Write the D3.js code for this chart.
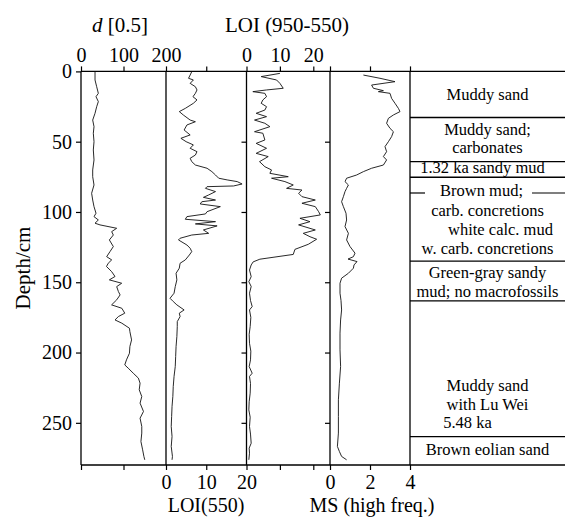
<!DOCTYPE html>
<html>
<head>
<meta charset="utf-8">
<script src="https://cdn.jsdelivr.net/npm/d3@7"></script>
<style>
  body { margin: 0; background: #fff; }
  svg text { font-family: "Liberation Serif", "Times New Roman", serif; fill: #000; }
</style>
</head>
<body>
<svg id="core" width="565" height="517"></svg>
<script>
// [depth cm, value]
var grainSize = [[0.2,33],[6.1,33],[10.9,36.9],[15.6,40.8],[18,35.3],[21.5,40.8],[25.1,36.9],[29.8,33],[34.6,27.5],[39.3,30.6],[44,29],[50,30.6],[55.9,29],[63,30.6],[70.1,27.5],[74.9,27.5],[80.8,30.6],[86.7,25],[91.5,27.5],[96.2,30.6],[100.9,35.3],[103.3,30.6],[105.7,40.8],[108,33],[109.2,44.7],[111.6,83.9],[114,72.2],[116.4,76.1],[119.9,66.7],[124.6,76.1],[128.2,68.2],[131.8,60.4],[134.1,72.2],[136.5,64],[138.8,60],[142.4,72],[145.9,80],[148.3,66.7],[150.7,95.7],[153.1,84],[156.6,88],[159,92],[162.5,84],[166.1,72],[168.5,96],[172,103],[174.4,88],[176.8,80],[179.1,96],[182.7,114],[185.1,115],[191,119],[195.7,115],[200.5,114],[205.2,107],[208.8,103],[211.1,111],[214.7,123],[218.2,135],[221.8,139],[226.5,137],[231.3,143],[236,139],[241.9,147],[246.7,139],[252.6,143],[257.3,143],[263.3,141],[269.2,145],[273.9,148],[276.3,150]];

var loi550 = [[0.2,6.4],[2.6,6],[4.9,5.6],[6.1,6.8],[8.5,6],[10.9,7.3],[13.2,7.7],[15.6,7.3],[18,6.7],[20.3,7.7],[22.7,6.8],[26.3,4.8],[28.6,3.3],[31,4.3],[34.6,6],[35.8,7.3],[38.1,5.2],[41.7,4.5],[45.2,6],[47.6,3.7],[50,5],[52.3,6.8],[54.7,6],[57.1,7.7],[59.5,7.3],[61.8,6],[64.2,6.4],[66.6,7.3],[68.9,10.2],[71.3,11.4],[73.7,12.3],[76,13.1],[77.2,15.2],[78.4,17.7],[80.1,18.9],[81.5,16.8],[82,10.2],[83.2,9.8],[85.5,12.3],[87.9,10.6],[89.6,9.3],[91.5,12.3],[92.7,8.9],[94.3,8.5],[96.2,13.5],[99.8,10.2],[101.4,9.8],[103.3,5.2],[105.2,4.8],[106.9,12.3],[108.5,7.3],[109.9,12.7],[112.8,9.3],[115.2,10.6],[116.4,6.4],[118.7,3.5],[119.9,3.1],[123.5,5.2],[125.8,6],[128.2,6.4],[130.6,5.8],[134.1,4.8],[136.5,3.5],[140,3.3],[143.6,2.5],[148.3,2.7],[153.1,2.3],[157.8,2],[161.4,1],[163.7,1.8],[166.1,2.7],[169.7,4.5],[172,3.3],[174.4,3.5],[178,2.8],[181.5,2.8],[188.6,2.7],[195.7,2.5],[202.8,2.4],[209.9,2.3],[217,2],[224.2,1.8],[231.3,1.7],[238.4,1.5],[245.5,1.4],[252.6,1.3],[259.7,1.5],[266.8,1.3],[273.9,1.6],[276.3,1.5]];

var loi950 = [[1.4,10],[3.7,4.4],[6.1,9],[8.5,10],[12,11],[13.2,6],[14.4,1.9],[15.6,5.5],[18,6],[20.3,4.9],[22.7,4.4],[25.1,6],[27.5,5.5],[29.8,2.9],[32.2,6],[34.6,2.4],[36.9,5.5],[39.3,7],[42.9,2.4],[44,4.9],[48.8,5.5],[51.2,2.9],[54.7,6],[58.3,2.9],[60.6,6.5],[64.2,3.9],[67.8,5.5],[70.1,7.5],[72.5,7],[74.9,12.5],[76,7.5],[78.4,11.5],[80.8,14],[83.2,12],[84.4,16.6],[86.7,15.6],[89.1,16.6],[91.5,20.6],[93.8,16.6],[96.2,20.6],[99.8,21.6],[102.1,22.1],[104.5,16],[106.9,19],[109.2,15.6],[112.8,20.6],[115.2,17],[117.6,19],[119.4,21],[123,18.5],[126.6,14.5],[130.2,14],[133.6,4],[135.5,2],[137.7,1.4],[141.3,0.9],[146,1.4],[149.6,0.7],[153,1.4],[157.8,0.9],[163,1.2],[167.3,1.7],[169.7,0.9],[175,1.3],[181.5,1.1],[187,0.8],[193.4,0.9],[199,1.3],[205.2,1.2],[210,0.8],[214.7,1.7],[217,0.9],[222,1.2],[228.9,1.1],[235,0.8],[240.8,0.7],[246,1.1],[252.6,0.9],[258,1.2],[264.5,1.4],[268,0.8],[271.6,0.9],[276.3,0.7]];

var magSus = [[2.6,1.67],[4.9,2.5],[7.3,3.25],[9.7,2.08],[12,2.17],[13.7,2.67],[14.4,2.42],[15.6,3],[19.2,3.08],[22.7,3.25],[26.3,3.42],[28.6,3.5],[31,3.17],[33.4,2.92],[36.9,2.83],[40.5,3],[42.9,3.17],[46.4,3.08],[50,2.92],[53.5,2.75],[57.1,2.83],[60.6,2.67],[63,2.83],[66.6,2.67],[68.9,2.08],[71.3,1.67],[73.7,1.33],[76,0.83],[78.4,0.75],[80.8,0.92],[83.2,0.83],[85.5,0.75],[89.1,0.67],[92.7,0.58],[96.2,0.67],[100.9,0.8],[105.7,0.83],[110.4,0.75],[115.2,0.92],[119.9,0.83],[124.6,1],[129.3,1.25],[131.8,1.17],[133.5,0.9],[135.3,1.35],[137.7,1.2],[140,1.17],[143.6,0.92],[147.1,0.58],[150.7,0.5],[157.8,0.5],[163,0.55],[169.7,0.58],[176.8,0.53],[186.2,0.5],[198.1,0.5],[209.9,0.53],[221.8,0.47],[233.6,0.42],[245.5,0.42],[257.3,0.42],[266.8,0.37],[270.4,0.47],[273.9,0.58],[276.3,0.83]];

var depthTicks = [0, 50, 100, 150, 200, 250];
var grainTicks = [0, 100, 200];
var loi550Ticks = [0, 10, 20];
var loi950Ticks = [0, 10, 20];
var msTicks = [0, 2, 4];

// lithology: layer boundaries (cm) and the description lines with their depth
var layerBounds = [32.8, 64.2, 75.3, 134.9, 163.3, 259.8];
var lithoLines = [
  [20.3, "Muddy sand"],
  [45.2, "Muddy sand;"],
  [58, "carbonates"],
  [72.3, "1.32 ka sandy mud"],
  [88.6, "Brown mud;"],
  [102.8, "carb. concretions"],
  [116.4, "white calc. mud"],
  [129.9, "w. carb. concretions"],
  [147, "Green-gray sandy"],
  [160.5, "mud; no macrofossils"],
  [227.3, "Muddy sand"],
  [240.8, "with Lu Wei"],
  [253.6, "5.48 ka"],
  [272.8, "Brown eolian sand"]
];
var brownMudMark = 86.5;

var svg = d3.select("#core");
var top0 = 71.4, bottom0 = 465, left0 = 81, logRight = 410, colRight = 565;

var y = d3.scaleLinear().domain([0, 280]).range([top0, bottom0]);

var xGrain = d3.scaleLinear().domain([0, 200]).range([81, 166]);
var xLoi550 = d3.scaleLinear().domain([0, 20]).range([166, 246.5]);
var xLoi950 = d3.scaleLinear().domain([0, 25]).range([246.5, 330]);
var xMs = d3.scaleLinear().domain([0, 4]).range([330, 410]);

function axisGroup(axis, ty) {
  var g = svg.append("g")
    .attr("transform", "translate(0," + ty + ")")
    .call(axis);
  g.select(".domain").remove();
  g.selectAll("line").attr("stroke", "#000").attr("stroke-width", 1.2);
  g.selectAll("text")
    .style("font-family", "'Liberation Serif', 'Times New Roman', serif")
    .style("font-size", "20px");
  return g;
}

// labelled ticks
axisGroup(d3.axisTop(xGrain).tickValues(grainTicks).tickSize(5).tickPadding(4).tickFormat(d3.format("d")), top0);
axisGroup(d3.axisTop(xLoi950).tickValues(loi950Ticks).tickSize(5).tickPadding(4).tickFormat(d3.format("d")), top0);
axisGroup(d3.axisBottom(xLoi550).tickValues(loi550Ticks).tickSize(5).tickPadding(5).tickFormat(d3.format("d")), bottom0);
axisGroup(d3.axisBottom(xMs).tickValues(msTicks).tickSize(5).tickPadding(5).tickFormat(d3.format("d")), bottom0);

// ticks on the opposite side, no labels
axisGroup(d3.axisTop(xLoi550).tickValues([10]).tickSize(5).tickFormat(""), top0);
axisGroup(d3.axisTop(xLoi950).tickValues([25]).tickSize(5).tickFormat(""), top0);
axisGroup(d3.axisTop(xMs).tickValues([2, 4]).tickSize(5).tickFormat(""), top0);
axisGroup(d3.axisBottom(xGrain).tickValues([0, 100]).tickSize(5).tickFormat(""), bottom0);
axisGroup(d3.axisBottom(xLoi950).tickValues([10, 20]).tickSize(5).tickFormat(""), bottom0);

// depth axis
var yAxis = svg.append("g")
  .attr("transform", "translate(" + left0 + ",0)")
  .call(d3.axisLeft(y).tickValues(depthTicks).tickSize(5).tickPadding(4).tickFormat(d3.format("d")));
yAxis.select(".domain").remove();
yAxis.selectAll("line").attr("stroke", "#000").attr("stroke-width", 1.2);
yAxis.selectAll("text").style("font-size", "20px")
  .style("font-family", "'Liberation Serif', 'Times New Roman', serif");

// inner depth ticks on the LOI(950-550) and MS dividers
[xLoi950.range()[0], xMs.range()[0]].forEach(function(px) {
  var g = svg.append("g")
    .attr("transform", "translate(" + px + ",0)")
    .call(d3.axisLeft(y).tickValues(depthTicks.slice(1)).tickSize(5).tickFormat(""));
  g.select(".domain").remove();
  g.selectAll("line").attr("stroke", "#000").attr("stroke-width", 1.2);
});

// frame
var frame = svg.append("g").attr("stroke", "#000").attr("stroke-width", 1.3);
frame.append("line").attr("x1", left0).attr("x2", colRight).attr("y1", top0).attr("y2", top0);
frame.append("line").attr("x1", left0).attr("x2", colRight).attr("y1", bottom0).attr("y2", bottom0);
[left0, 166, 246.5, 330, logRight].forEach(function(px) {
  frame.append("line").attr("x1", px).attr("x2", px).attr("y1", top0).attr("y2", bottom0);
});

// curves
var series = [
  { data: grainSize, x: xGrain },
  { data: loi550, x: xLoi550 },
  { data: loi950, x: xLoi950 },
  { data: magSus, x: xMs }
];
series.forEach(function(s) {
  var line = d3.line()
    .x(function(d) { return s.x(d[1]); })
    .y(function(d) { return y(d[0]); });
  svg.append("path")
    .datum(s.data)
    .attr("fill", "none")
    .attr("stroke", "#111")
    .attr("stroke-width", 0.9)
    .attr("stroke-linejoin", "round")
    .attr("d", line);
});

// lithology column
svg.selectAll(".layer")
  .data(layerBounds)
  .enter()
  .append("line")
  .attr("class", "layer")
  .attr("x1", logRight).attr("x2", colRight)
  .attr("y1", function(d) { return y(d); })
  .attr("y2", function(d) { return y(d); })
  .attr("stroke", "#000").attr("stroke-width", 1.3);

svg.append("line").attr("x1", logRight).attr("x2", 425)
  .attr("y1", y(brownMudMark)).attr("y2", y(brownMudMark))
  .attr("stroke", "#000").attr("stroke-width", 1.2);
svg.append("line").attr("x1", 532).attr("x2", colRight)
  .attr("y1", y(brownMudMark)).attr("y2", y(brownMudMark))
  .attr("stroke", "#000").attr("stroke-width", 1.2);

var colMid = (logRight + colRight) / 2;
var shiftX = { "1.32 ka sandy mud": -5, "white calc. mud": 13, "5.48 ka": -20, "Brown mud;": -6 };
svg.selectAll(".litho")
  .data(lithoLines)
  .enter()
  .append("text")
  .attr("class", "litho")
  .attr("x", function(d) { return colMid + (shiftX[d[1]] || 0); })
  .attr("y", function(d) { return y(d[0]); })
  .attr("text-anchor", "middle")
  .style("font-size", "16.5px")
  .text(function(d) { return d[1]; });

// titles
var t1 = svg.append("text").attr("x", 120).attr("y", 32).attr("text-anchor", "middle").style("font-size", "21px");
t1.append("tspan").style("font-style", "italic").text("d");
t1.append("tspan").text(" [0.5]");
svg.append("text").attr("x", 287).attr("y", 32).attr("text-anchor", "middle").style("font-size", "21px").text("LOI (950-550)");
svg.append("text").attr("x", 206).attr("y", 512).attr("text-anchor", "middle").style("font-size", "20px").text("LOI(550)");
svg.append("text").attr("x", 372).attr("y", 512).attr("text-anchor", "middle").style("font-size", "20px").text("MS (high freq.)");
svg.append("text")
  .attr("transform", "translate(30," + 268 + ") rotate(-90)")
  .attr("text-anchor", "middle")
  .style("font-size", "21px")
  .text("Depth/cm");
</script>
</body>
</html>
